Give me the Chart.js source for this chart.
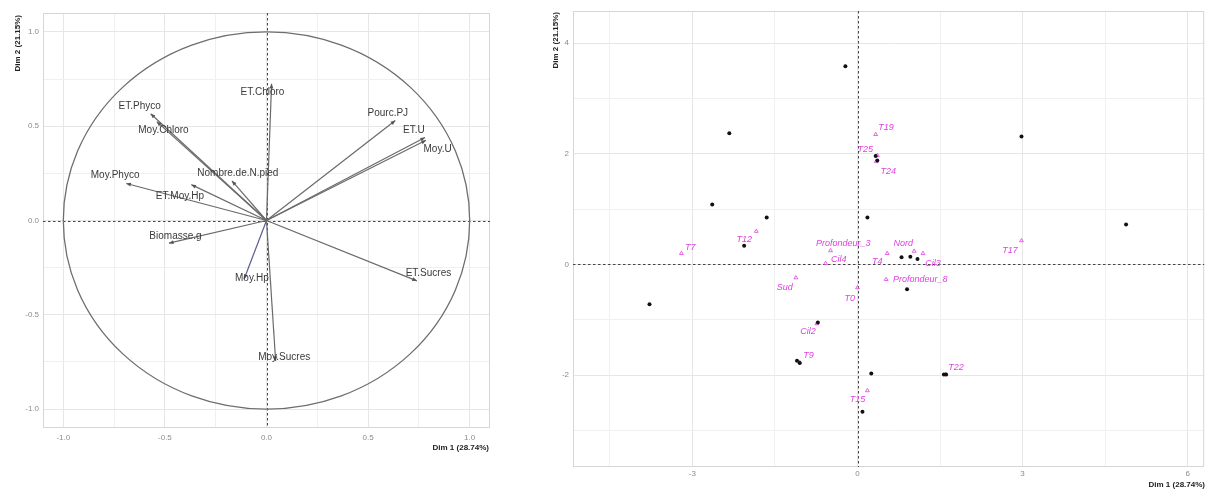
<!DOCTYPE html>
<html>
<head>
<meta charset="utf-8">
<script src="https://cdn.jsdelivr.net/npm/chart.js@4"></script>
<style>
  body { margin: 0; background: #fff; width: 1209px; height: 489px; overflow: hidden; position: relative; }
  canvas { position: absolute; top: 0; }
  #varplot { left: 0; }
  #indplot { left: 520px; }
</style>
</head>
<body>
<canvas id="varplot" width="520" height="489"></canvas>
<canvas id="indplot" width="689" height="489"></canvas>
<script>
// ACP : cercle des corrélations + carte des individus

// ---- variables (cercle) ----
const varNames = ["ET.Chloro", "ET.Phyco", "Moy.Chloro", "Moy.Phyco", "ET.Moy.Hp", "Nombre.de.N.pied",
  "Biomasse.g", "Pourc.PJ", "ET.U", "Moy.U", "ET.Sucres", "Moy.Sucres", "Moy.Hp"];
const varDim1 = [0.025, -0.57, -0.54, -0.69, -0.37, -0.17, -0.48, 0.634, 0.78, 0.785, 0.74, 0.045, -0.11];
const varDim2 = [0.725, 0.566, 0.524, 0.196, 0.19, 0.21, -0.12, 0.53, 0.44, 0.425, -0.32, -0.745, -0.31];
// positions des étiquettes (repel), en unités des axes
const varLabX = [-0.02, -0.624, -0.507, -0.745, -0.426, -0.141, -0.448, 0.597, 0.725, 0.842, 0.797, 0.087, -0.072];
const varLabY = [0.68, 0.608, 0.476, 0.238, 0.127, 0.249, -0.085, 0.571, 0.476, 0.376, -0.28, -0.725, -0.307];
const varTicks = [-1.0, -0.5, 0.0, 0.5, 1.0];

// ---- individus ----
const indDim1 = [-0.22, -2.33, -2.64, -1.65, -2.06, 0.18, 0.33, 0.36, 2.98, 4.88, -3.78, -0.72,
  -1.1, -1.05, 0.09, 0.8, 0.96, 1.09, 0.9, 0.25, 1.57, 1.61];
const indDim2 = [3.58, 2.37, 1.085, 0.85, 0.34, 0.85, 1.96, 1.88, 2.31, 0.72, -0.72, -1.05,
  -1.74, -1.78, -2.66, 0.13, 0.14, 0.1, -0.45, -1.97, -1.99, -1.99];

// ---- modalités supplémentaires ----
const supNames = ["Profondeur_3", "Cil4", "T4", "Nord", "Cil3", "Profondeur_8", "Sud", "T0", "T7", "T12",
  "T19", "T25", "T24", "Cil2", "T9", "T22", "T15", "T17"];
const supDim1 = [-0.49, -0.58, 0.54, 1.03, 1.19, 0.52, -1.12, 0.0, -3.2, -1.84, 0.33, 0.36, 0.34, -0.74, -1.05, 1.6, 0.18, 2.98];
const supDim2 = [0.25, 0.02, 0.2, 0.24, 0.2, -0.27, -0.24, -0.42, 0.2, 0.6, 2.35, 1.97, 1.86, -1.07, -1.77, -1.99, -2.28, 0.43];
const supLabX = [-0.26, -0.34, 0.36, 0.83, 1.37, 1.14, -1.32, -0.14, -3.04, -2.06, 0.52, 0.14, 0.56, -0.9, -0.89, 1.79, 0.0, 2.77];
const supLabY = [0.38, 0.09, 0.05, 0.38, 0.02, -0.27, -0.42, -0.61, 0.31, 0.45, 2.48, 2.08, 1.68, -1.21, -1.65, -1.86, -2.44, 0.25];
const indXTicks = [-3, 0, 3, 6];
const indYTicks = [-2, 0, 2, 4];

const dim1Title = "Dim 1 (28.74%)";
const dim2Title = "Dim 2 (21.15%)";

Chart.defaults.font.family = "'Liberation Sans', Arial, sans-serif";
Chart.defaults.color = "#8c8c8c";

const near = (v, list) => list.some((t) => Math.abs(t - v) < 1e-6);

// grille + cadre + lignes zéro
function frameAndZero(chart) {
  const { ctx, chartArea: a, scales: { x, y } } = chart;
  ctx.save();
  ctx.strokeStyle = "#d6d6d6";
  ctx.lineWidth = 1;
  ctx.strokeRect(a.left + 0.5, a.top + 0.5, a.right - a.left - 1, a.bottom - a.top - 1);
  ctx.strokeStyle = "#444";
  ctx.setLineDash([2.5, 2.5]);
  const x0 = Math.round(x.getPixelForValue(0)) + 0.5;
  const y0 = Math.round(y.getPixelForValue(0)) + 0.5;
  ctx.beginPath();
  ctx.moveTo(x0, a.top); ctx.lineTo(x0, a.bottom);
  ctx.moveTo(a.left, y0); ctx.lineTo(a.right, y0);
  ctx.stroke();
  ctx.restore();
}

function axisTitles(ctx, x1, y1, x2, y2) {
  ctx.save();
  ctx.fillStyle = "#222";
  ctx.font = "bold 8px 'Liberation Sans', Arial, sans-serif";
  ctx.textBaseline = "middle";
  ctx.textAlign = "right";
  ctx.fillText(dim1Title, x1, y1);
  ctx.translate(x2, y2);
  ctx.rotate(-Math.PI / 2);
  ctx.fillText(dim2Title, 0, 0);
  ctx.restore();
}

// ========== cercle des corrélations ==========
const varPlugin = {
  id: "varDecor",
  beforeDatasetsDraw(chart) {
    const { ctx, scales: { x, y } } = chart;
    frameAndZero(chart);
    const cx = x.getPixelForValue(0), cy = y.getPixelForValue(0);
    ctx.save();
    ctx.strokeStyle = "#6e6e6e";
    ctx.lineWidth = 1.3;
    ctx.beginPath();
    ctx.ellipse(cx, cy, x.getPixelForValue(1) - cx, cy - y.getPixelForValue(1), 0, 0, Math.PI * 2);
    ctx.stroke();
    ctx.restore();
  },
  afterDatasetsDraw(chart) {
    const { ctx, scales: { x, y } } = chart;
    const cx = x.getPixelForValue(0), cy = y.getPixelForValue(0);
    ctx.save();
    varNames.forEach((n, i) => {
      const ex = x.getPixelForValue(varDim1[i]), ey = y.getPixelForValue(varDim2[i]);
      const ang = Math.atan2(ey - cy, ex - cx);
      ctx.fillStyle = "#555";
      ctx.beginPath();
      ctx.moveTo(ex, ey);
      ctx.lineTo(ex - 5 * Math.cos(ang - 0.4), ey - 5 * Math.sin(ang - 0.4));
      ctx.lineTo(ex - 5 * Math.cos(ang + 0.4), ey - 5 * Math.sin(ang + 0.4));
      ctx.closePath();
      ctx.fill();
      ctx.fillStyle = "#3a3a3a";
      ctx.font = "10px 'Liberation Sans', Arial, sans-serif";
      ctx.textAlign = "center";
      ctx.textBaseline = "middle";
      ctx.fillText(n, x.getPixelForValue(varLabX[i]), y.getPixelForValue(varLabY[i]));
    });
    ctx.restore();
  },
  afterDraw(chart) {
    axisTitles(chart.ctx, 489, 448, 18, 15);
  },
};

const unitScale = (afterFit, pad) => ({
  min: -1.1, max: 1.1,
  ticks: {
    stepSize: 0.25, includeBounds: false, autoSkip: false, maxRotation: 0, padding: pad,
    font: { size: 8 }, color: "#8c8c8c",
    callback: (v) => (near(v, varTicks) ? v.toFixed(1) : ""),
  },
  grid: { drawTicks: false, color: (c) => (near(c.tick.value, varTicks) ? "#e6e6e6" : "#f0f0f0") },
  border: { display: false },
  afterFit,
});

new Chart(document.getElementById("varplot"), {
  type: "scatter",
  data: {
    datasets: varNames.map((n, i) => ({
      label: n,
      data: [{ x: 0, y: 0 }, { x: varDim1[i], y: varDim2[i] }],
      showLine: true,
      borderColor: n === "Moy.Hp" ? "#5c5c96" : "#6a6a6a",
      borderWidth: 1.2,
      pointRadius: 0,
    })),
  },
  options: {
    responsive: false,
    animation: false,
    devicePixelRatio: 1,
    layout: { padding: { top: 13, right: 30, left: 0, bottom: 0 } },
    plugins: { legend: { display: false }, tooltip: { enabled: false } },
    scales: {
      x: unitScale((s) => { s.height = 61; }, 5),
      y: unitScale((s) => { s.width = 43; }, 4),
    },
  },
  plugins: [varPlugin],
});

// ========== carte des individus ==========
const indPlugin = {
  id: "indDecor",
  beforeDatasetsDraw(chart) {
    frameAndZero(chart);
  },
  afterDatasetsDraw(chart) {
    const { ctx, scales: { x, y } } = chart;
    ctx.save();
    ctx.fillStyle = "#e040e0";
    ctx.font = "italic 9px 'Liberation Sans', Arial, sans-serif";
    ctx.textAlign = "center";
    ctx.textBaseline = "middle";
    supNames.forEach((n, i) => {
      ctx.fillText(n, x.getPixelForValue(supLabX[i]), y.getPixelForValue(supLabY[i]));
    });
    ctx.restore();
  },
  afterDraw(chart) {
    axisTitles(chart.ctx, 685, 485, 36, 12);
  },
};

new Chart(document.getElementById("indplot"), {
  type: "scatter",
  data: {
    datasets: [
      {
        label: "individus",
        data: indDim1.map((v, i) => ({ x: v, y: indDim2[i] })),
        backgroundColor: "#111",
        borderColor: "#111",
        pointRadius: 2,
        borderWidth: 0,
      },
      {
        label: "modalités",
        data: supDim1.map((v, i) => ({ x: v, y: supDim2[i] })),
        pointStyle: "triangle",
        backgroundColor: "rgba(0,0,0,0)",
        borderColor: "#e040e0",
        borderWidth: 0.8,
        pointRadius: 2.2,
      },
    ],
  },
  options: {
    responsive: false,
    animation: false,
    devicePixelRatio: 1,
    layout: { padding: { top: 11, right: 2, left: 0, bottom: 0 } },
    plugins: { legend: { display: false }, tooltip: { enabled: false } },
    scales: {
      x: {
        min: -5.17, max: 6.3,
        ticks: {
          stepSize: 1.5, includeBounds: false, autoSkip: false, maxRotation: 0, padding: 2,
          font: { size: 8 }, callback: (v) => (near(v, indXTicks) ? String(v) : ""),
        },
        grid: { drawTicks: false, color: (c) => (near(c.tick.value, indXTicks) ? "#e6e6e6" : "#f0f0f0") },
        border: { display: false },
        afterFit: (s) => { s.height = 22; },
      },
      y: {
        min: -3.66, max: 4.58,
        ticks: {
          stepSize: 1, includeBounds: false, autoSkip: false, padding: 4,
          font: { size: 8 }, callback: (v) => (near(v, indYTicks) ? String(v) : ""),
        },
        grid: { drawTicks: false, color: (c) => (near(c.tick.value, indYTicks) ? "#e6e6e6" : "#f0f0f0") },
        border: { display: false },
        afterFit: (s) => { s.width = 53; },
      },
    },
  },
  plugins: [indPlugin],
});
</script>
</body>
</html>
